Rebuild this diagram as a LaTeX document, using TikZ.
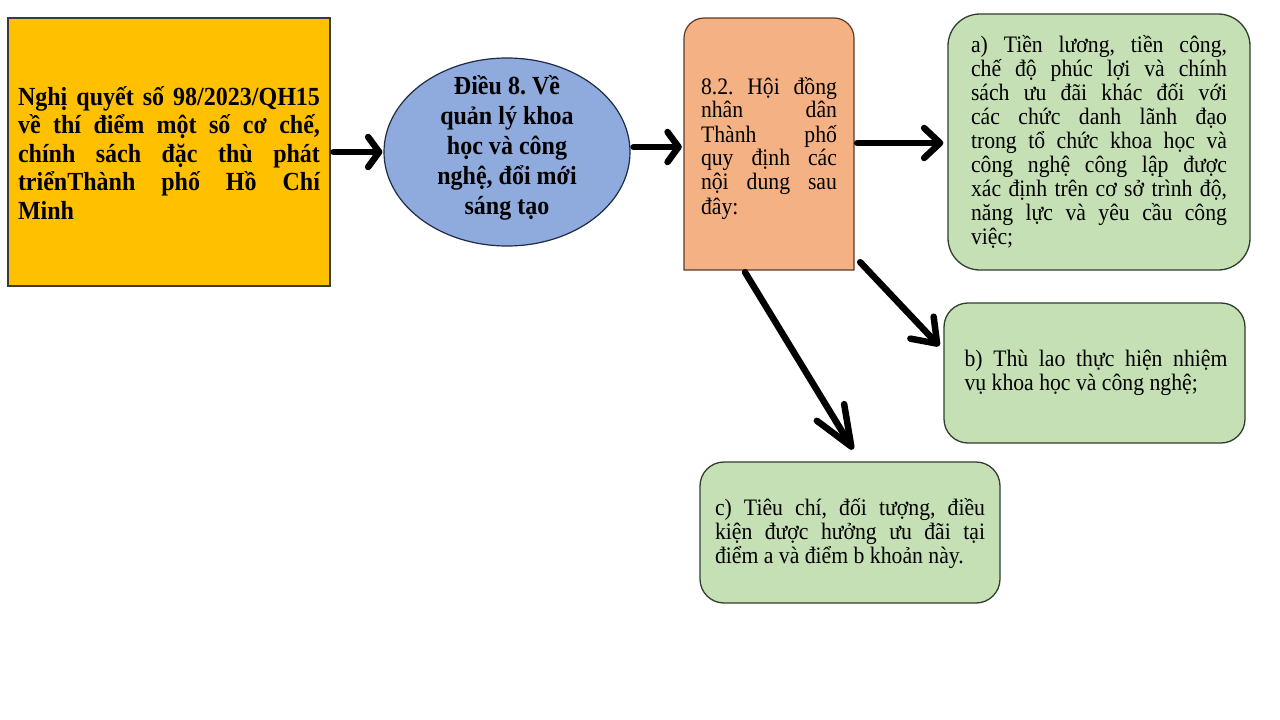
\documentclass[tikz,border=0pt]{standalone}
\usepackage{fontspec}
\setmainfont{Liberation Serif}[FakeStretch=0.92]
\usetikzlibrary{arrows.meta,shapes.geometric,calc}
\definecolor{cyellow}{HTML}{FFC000}
\definecolor{cblue}{HTML}{8FAADC}
\definecolor{corange}{HTML}{F4B183}
\definecolor{cgreen}{HTML}{C5E0B4}
\definecolor{bdark}{HTML}{3A3A3A}
\definecolor{bblue}{HTML}{1F2A44}
\definecolor{bgreen}{HTML}{2F3F2F}
\definecolor{borange}{HTML}{5B3A2A}
\hyphenpenalty=10000
\exhyphenpenalty=10000
\frenchspacing
\newcommand{\jpar}[2]{\parbox{#1}{\frenchspacing\leftskip=0pt\rightskip=0pt\parfillskip=0pt plus 1fil\relax #2\par}}
\begin{document}
\begin{tikzpicture}[x=1pt,y=-1pt,
  regtext/.style={font=\fontsize{23.6}{24}\selectfont, inner sep=0pt},
  boldtext/.style={font=\bfseries\fontsize{26.1}{28.5}\selectfont, inner sep=0pt},
  gbox/.style={draw=bgreen, line width=1.3pt, fill=cgreen, rectangle, inner sep=0pt},
  conn/.style={line width=6.5pt, line cap=round, line join=round},
  headA/.style={-{Straight Barb[round,length=11pt,width=30pt]}},
  headB/.style={-{Straight Barb[round,length=16pt,width=30pt]}},
  headC/.style={-{Straight Barb[round,length=22pt,width=32pt]}},
  headD/.style={-{Straight Barb[round,length=40pt,width=32pt]}}
]
\fill[white] (0,0) rectangle (1280,720);
\useasboundingbox (0,0) rectangle (1280,720);

% yellow box
\node[draw=bdark, line width=1.2pt, fill=cyellow, rectangle, inner sep=0pt,
      minimum width=322pt, minimum height=268pt] (y) at (169,152) {};
\node[boldtext] (yt) at (169,153)
  {\jpar{302pt}{Nghị quyết số 98/2023/QH15\linebreak về thí điểm một số cơ chế,\linebreak chính sách đặc thù phát\linebreak triểnThành phố Hồ Chí\linebreak Minh}};

% ellipse
\node[draw=bblue, line width=1.2pt, fill=cblue, ellipse, inner sep=0pt,
      minimum width=246pt, minimum height=188pt] (e) at (507,152) {};
\node[font=\bfseries\fontsize{26.1}{30}\selectfont, align=center, inner sep=0pt] (et) at (507,148)
  {Điều 8. Về\\quản lý khoa\\học và công\\nghệ, đổi mới\\sáng tạo};

% orange box (top corners rounded)
\draw[draw=borange, line width=1.2pt, fill=corange]
  (684,270) -- (684,38) .. controls (684,27) and (693,18) .. (704,18)
  -- (834,18) .. controls (845,18) and (854,27) .. (854,38) -- (854,270) -- cycle;
\node[rectangle, inner sep=0pt, minimum width=170pt, minimum height=252pt] (o) at (769,144) {};
\node[regtext] (ot) at (769,148)
  {\jpar{136pt}{8.2. Hội đồng\linebreak nhân dân\linebreak Thành phố\linebreak quy định các\linebreak nội dung sau\linebreak đây:}};

% green boxes
\node[gbox, rounded corners=32pt, minimum width=302pt, minimum height=256pt] (a) at (1099,142) {};
\node[regtext] (at) at (1099,142)
  {\jpar{256pt}{a) Tiền lương, tiền công,\linebreak chế độ phúc lợi và chính\linebreak sách ưu đãi khác đối với\linebreak các chức danh lãnh đạo\linebreak trong tổ chức khoa học và\linebreak công nghệ công lập được\linebreak xác định trên cơ sở trình độ,\linebreak năng lực và yêu cầu công\linebreak việc;}};

\node[gbox, rounded corners=24pt, minimum width=301pt, minimum height=140pt] (b) at (1094.5,373) {};
\node[regtext] (bt) at (1096,373)
  {\jpar{263pt}{b) Thù lao thực hiện nhiệm\linebreak vụ khoa học và công nghệ;}};

\node[gbox, rounded corners=24pt, minimum width=300pt, minimum height=141pt] (c) at (850,532.5) {};
\node[regtext] (ct) at (850,533)
  {\jpar{270pt}{c) Tiêu chí, đối tượng, điều\linebreak kiện được hưởng ưu đãi tại\linebreak điểm a và điểm b khoản này.}};

% connectors
\draw[conn, headA] ($(y.east)+(3,0)$) -- ($(e.west)+(-1,0)$);
\draw[conn, headA] ($(e.east)+(3,-5)$) -- ($(o.west)+(-2,3)$);
\draw[conn, headB] ($(o.east)+(3,-1)$) -- ($(a.west)+(-4,1)$);
\draw[conn, headC] ($(o.south east)+(6,-8)$) -- ($(b.west)+(-4,-27)$);
\draw[conn, headD] ($(o.south)+(-24,2)$) -- ($(c.north)+(3,-12)$);
\end{tikzpicture}
\end{document}
